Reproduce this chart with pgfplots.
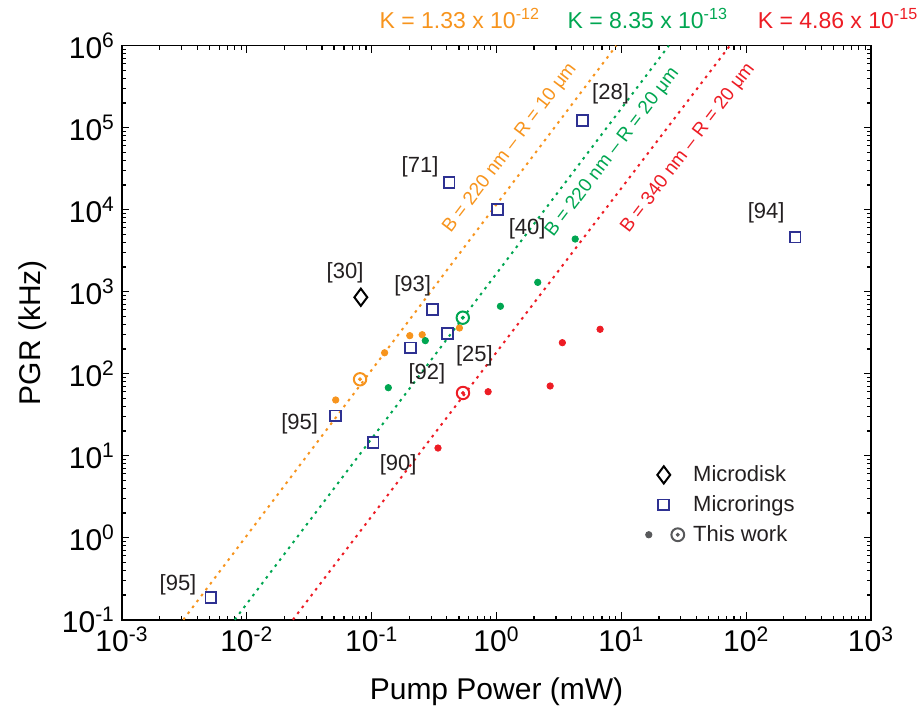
\documentclass[border=0pt]{standalone}
\usepackage{pgfplots}
\pgfplotsset{compat=1.18}
\usepackage{fontspec}
\setmainfont{Liberation Sans}
\definecolor{cOr}{RGB}{247,148,29}
\definecolor{cGr}{RGB}{0,166,81}
\definecolor{cRd}{RGB}{237,28,36}
\definecolor{cNv}{RGB}{46,49,146}
\definecolor{cTx}{RGB}{35,31,32}
\definecolor{cGy}{RGB}{88,89,91}
\begin{document}
\begin{tikzpicture}
\useasboundingbox (-61pt,-49.65pt) rectangle (400.5pt,309.85pt);
\begin{axis}[
  at={(0,0)}, anchor=south west,
  scale only axis, width=374.5pt, height=287pt,
  xmode=log, ymode=log,
  xmin=1e-3, xmax=1e3, ymin=1e-1, ymax=1e6,
  xtick={1e-3,1e-2,1e-1,1,1e1,1e2,1e3},
  xticklabels={10\textsuperscript{-3},10\textsuperscript{-2},10\textsuperscript{-1},10\textsuperscript{0},10\textsuperscript{1},10\textsuperscript{2},10\textsuperscript{3}},
  ytick={1e-1,1,1e1,1e2,1e3,1e4,1e5,1e6},
  yticklabels={10\textsuperscript{-1},10\textsuperscript{0},10\textsuperscript{1},10\textsuperscript{2},10\textsuperscript{3},10\textsuperscript{4},10\textsuperscript{5},10\textsuperscript{6}},
  tick label style={font=\fontsize{15}{15}\selectfont, black},
  axis line style={line width=0.8pt, black},
  every tick/.style={black, line width=0.6pt},
  major tick length=3.75pt, minor tick length=2pt,
  tick align=inside, tick pos=both,
  clip=false,
  xlabel={Pump Power (mW)},
  ylabel={PGR (kHz)},
  xlabel style={font=\fontsize{15}{18}\selectfont, at={(axis description cs:0.5,0)}, anchor=base, yshift=-40pt},
  every axis y label/.style={font=\fontsize{15}{18}\selectfont, at={(axis description cs:-0.1084,0.5)}, anchor=base, rotate=90},
  legend style={at={(rel axis cs:0.698,0.273)}, anchor=north west, draw=none, fill=none,
    inner sep=0pt, row sep=3.5pt, nodes={inner sep=1pt},
    font=\fontsize{11}{13}\selectfont, text=cTx},
  legend cell align=left,
  /tikz/every odd column/.append style={column sep=3pt},
]
\addlegendimage{only marks, mark=diamond, mark size=4.3pt, black, line width=1pt}
\addlegendentry{Microdisk}
\addlegendimage{only marks, mark=square, mark size=2.7pt, cNv, line width=0.9pt}
\addlegendentry{Microrings}
\addlegendimage{legend image code/.code={
  \path (0cm,0cm) (0.6cm,0cm);
  \fill[cGy] (0.3cm-7.5pt,0cm) circle (1.6pt);
  \draw[cGy, line width=1pt] (0.3cm+7pt,0cm) circle (3.2pt);
  \fill[cGy] (0.3cm+7pt,0cm) circle (0.8pt);}}
\addlegendentry{This work}

% fitted lines
\addplot[forget plot, cOr, line width=1pt, dash pattern=on 1.3pt off 2.4pt] coordinates {(0.0031,0.1) (9.1,1e6)};
\addplot[forget plot, cGr, line width=1pt, dash pattern=on 1.3pt off 2.4pt] coordinates {(0.0080,0.1) (24,1e6)};
\addplot[forget plot, cRd, line width=1pt, dash pattern=on 1.3pt off 2.4pt] coordinates {(0.0234,0.1) (74,1e6)};

% microdisk
\addplot[forget plot, only marks, mark=diamond, mark size=4.3pt, black, line width=1pt] coordinates {(0.0819,855)};
% microrings
\addplot[forget plot, only marks, mark=square, mark size=2.7pt, cNv, line width=0.9pt] coordinates {
 (4.88,1.22e5) (0.417,2.13e4) (1.02,1.01e4) (0.306,610) (0.204,206) (0.407,311)
 (0.0515,30.5) (0.1026,14.4) (0.00516,0.185) (247,4640)};

% this work dots
\addplot[forget plot, only marks, mark=*, mark size=1.6pt, cOr, mark options={draw=none, fill=cOr}] coordinates {
 (0.0515,47.8) (0.127,180) (0.202,291) (0.254,299) (0.505,361)};
\addplot[forget plot, only marks, mark=*, mark size=1.6pt, cGr, mark options={draw=none, fill=cGr}] coordinates {
 (0.136,67.5) (0.269,253) (1.075,664) (2.14,1300) (4.27,4390)};
\addplot[forget plot, only marks, mark=*, mark size=1.6pt, cRd, mark options={draw=none, fill=cRd}] coordinates {
 (0.340,12.4) (0.857,60.3) (2.69,70.8) (3.37,239) (6.76,348)};

% circled points
\addplot[forget plot, only marks, mark=o, mark size=3.1pt, cOr, line width=1pt] coordinates {(0.0807,85.5)};
\addplot[forget plot, only marks, mark=*, mark size=0.8pt, cOr, mark options={draw=none, fill=cOr}] coordinates {(0.0807,85.5)};
\addplot[forget plot, only marks, mark=o, mark size=3.1pt, cGr, line width=1pt] coordinates {(0.537,482)};
\addplot[forget plot, only marks, mark=*, mark size=0.8pt, cGr, mark options={draw=none, fill=cGr}] coordinates {(0.537,482)};
\addplot[forget plot, only marks, mark=o, mark size=3.1pt, cRd, line width=1pt] coordinates {(0.539,58.2)};
\addplot[forget plot, only marks, mark=*, mark size=0.8pt, cRd, mark options={draw=none, fill=cRd}] coordinates {(0.539,58.2)};

% reference labels
\begin{scope}[every node/.style={font=\fontsize{11}{13}\selectfont, text=cTx, inner sep=0pt}]
\node at (axis cs:8.2,2.58e5) {[28]};
\node at (axis cs:0.244,3.34e4) {[71]};
\node at (axis cs:1.76,5930) {[40]};
\node at (axis cs:0.0612,1714) {[30]};
\node at (axis cs:0.213,1180) {[93]};
\node at (axis cs:0.277,101) {[92]};
\node at (axis cs:0.665,166) {[25]};
\node at (axis cs:0.0265,24.8) {[95]};
\node at (axis cs:0.163,7.7) {[90]};
\node at (axis cs:0.00281,0.265) {[95]};
\node at (axis cs:144.5,9120) {[94]};
\end{scope}

% line labels
\begin{scope}[every node/.style={font=\fontsize{9.5}{11}\selectfont, inner sep=0pt, rotate=52.6}]
\node[text=cOr] at (axis cs:1.285,5.65e4) {B = 220 nm – R = 10 μm};
\node[text=cGr] at (axis cs:8.5,5.0e4) {B = 220 nm – R = 20 μm};
\node[text=cRd] at (axis cs:34.3,5.65e4) {B = 340 nm – R = 20 μm};
\end{scope}

% K labels
\begin{scope}[every node/.style={font=\fontsize{11.5}{13}\selectfont, inner sep=0pt, anchor=base, yshift=8.7pt}]
\node[text=cOr] at (rel axis cs:0.451,1) {K = 1.33 x 10\textsuperscript{-12}};
\node[text=cGr] at (rel axis cs:0.702,1) {K = 8.35 x 10\textsuperscript{-13}};
\node[text=cRd] at (rel axis cs:0.956,1) {K = 4.86 x 10\textsuperscript{-15}};
\end{scope}
\end{axis}
\end{tikzpicture}
\end{document}
